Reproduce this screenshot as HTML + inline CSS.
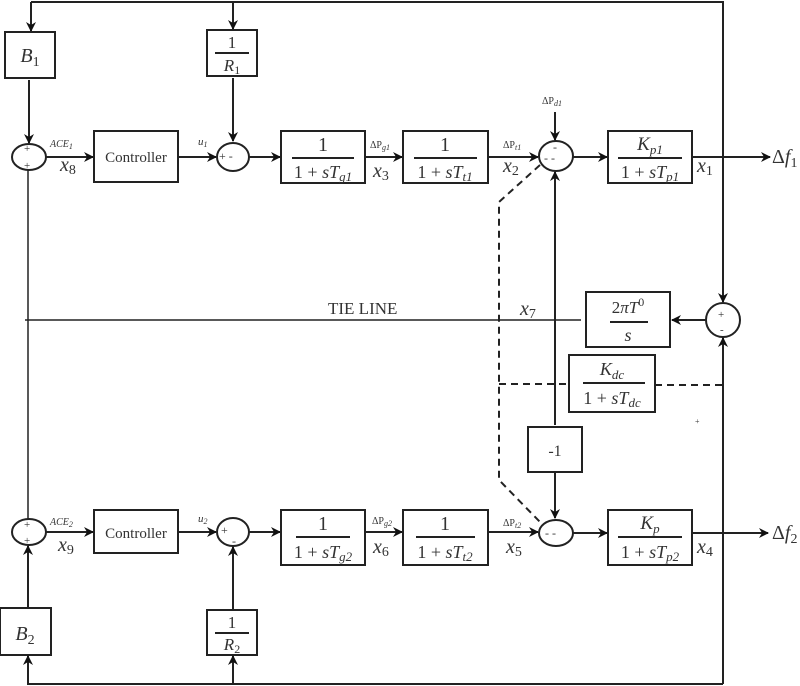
<!DOCTYPE html>
<html><head><meta charset="utf-8"><style>
html,body{margin:0;padding:0;background:#fff;}
svg{display:block;}
text{font-family:"Liberation Serif",serif;fill:#333;}
.i{font-style:italic;}
.c{text-anchor:middle;}
</style></head><body>
<svg width="800" height="686" viewBox="0 0 800 686" xmlns="http://www.w3.org/2000/svg">
<defs>
<marker id="a" markerWidth="10" markerHeight="10" refX="9" refY="5" orient="auto" markerUnits="userSpaceOnUse">
<path d="M0,0 L10,5 L0,10 L3,5 z" fill="#111"/></marker>
</defs>
<g stroke="#222" stroke-width="2" fill="none">
<polyline points="31,2 723,2 723,302" marker-end="url(#a)"/>
<line x1="31" y1="2" x2="31" y2="31" marker-end="url(#a)"/>
<line x1="233" y1="2" x2="233" y2="29" marker-end="url(#a)"/>
<rect x="5" y="32" width="50" height="46"/>
<rect x="207" y="30" width="50" height="46"/>
<line x1="29" y1="80" x2="29" y2="143" marker-end="url(#a)"/>
<line x1="233" y1="78" x2="233" y2="141" marker-end="url(#a)"/>
<ellipse cx="29" cy="157" rx="17" ry="13"/>
<line x1="46" y1="157" x2="93" y2="157" marker-end="url(#a)"/>
<rect x="94" y="131" width="84" height="51"/>
<line x1="178" y1="157" x2="216" y2="157" marker-end="url(#a)"/>
<ellipse cx="233" cy="157" rx="16" ry="14"/>
<line x1="249" y1="157" x2="280" y2="157" marker-end="url(#a)"/>
<rect x="281" y="131" width="84" height="52"/>
<line x1="365" y1="157" x2="402" y2="157" marker-end="url(#a)"/>
<rect x="403" y="131" width="85" height="52"/>
<line x1="488" y1="157" x2="538" y2="157" marker-end="url(#a)"/>
<ellipse cx="556" cy="156" rx="17" ry="15"/>
<line x1="555" y1="112" x2="555" y2="140" marker-end="url(#a)"/>
<line x1="573" y1="157" x2="607" y2="157" marker-end="url(#a)"/>
<rect x="608" y="131" width="84" height="52"/>
<line x1="692" y1="157" x2="770" y2="157" marker-end="url(#a)"/>
<line x1="555" y1="425" x2="555" y2="172" marker-end="url(#a)"/>
<rect x="528" y="427" width="54" height="45"/>
<line x1="555" y1="472" x2="555" y2="518" marker-end="url(#a)"/>
<line x1="25" y1="320" x2="581" y2="320" stroke-width="1.5"/>
<rect x="586" y="292" width="84" height="55"/>
<ellipse cx="723" cy="320" rx="17" ry="17"/>
<line x1="706" y1="320" x2="672" y2="320" marker-end="url(#a)"/>
<rect x="569" y="355" width="86" height="57"/>
<polyline points="723,684 723,338" marker-end="url(#a)"/>
<line x1="28" y1="170" x2="28" y2="519" stroke-width="1.5"/>
<ellipse cx="29" cy="532" rx="17" ry="13"/>
<line x1="46" y1="532" x2="93" y2="532" marker-end="url(#a)"/>
<rect x="94" y="510" width="84" height="43"/>
<line x1="178" y1="532" x2="216" y2="532" marker-end="url(#a)"/>
<ellipse cx="233" cy="532" rx="16" ry="14"/>
<line x1="249" y1="532" x2="280" y2="532" marker-end="url(#a)"/>
<rect x="281" y="510" width="84" height="55"/>
<line x1="365" y1="532" x2="402" y2="532" marker-end="url(#a)"/>
<rect x="403" y="510" width="85" height="55"/>
<line x1="488" y1="532" x2="538" y2="532" marker-end="url(#a)"/>
<ellipse cx="556" cy="533" rx="17" ry="13"/>
<line x1="573" y1="533" x2="607" y2="533" marker-end="url(#a)"/>
<rect x="608" y="510" width="84" height="55"/>
<line x1="692" y1="533" x2="768" y2="533" marker-end="url(#a)"/>
<rect x="0" y="608" width="51" height="47"/>
<rect x="207" y="610" width="50" height="45"/>
<line x1="28" y1="608" x2="28" y2="546" marker-end="url(#a)"/>
<line x1="233" y1="610" x2="233" y2="547" marker-end="url(#a)"/>
<polyline points="723,684 28,684 28,656" marker-end="url(#a)"/>
<line x1="233" y1="684" x2="233" y2="656" marker-end="url(#a)"/>
<g stroke-dasharray="7,5">
<polyline points="540,165 499,202 499,480 540,522"/>
<line x1="499" y1="384" x2="569" y2="384"/>
<line x1="655" y1="385" x2="723" y2="385"/>
</g>
<line x1="215" y1="53" x2="249" y2="53"/>
<line x1="292" y1="158" x2="354" y2="158"/>
<line x1="414" y1="158" x2="477" y2="158"/>
<line x1="618" y1="158" x2="682" y2="158"/>
<line x1="610" y1="322" x2="648" y2="322"/>
<line x1="583" y1="383" x2="645" y2="383"/>
<line x1="215" y1="633" x2="249" y2="633"/>
<line x1="296" y1="537" x2="350" y2="537"/>
<line x1="416" y1="537" x2="475" y2="537"/>
<line x1="618" y1="537" x2="682" y2="537"/>
</g>
<g font-size="18">
<text x="30" y="62" class="i c" font-size="20">B<tspan font-size="14" dy="4" font-style="normal">1</tspan></text>
<text x="232" y="48" class="c" font-size="17">1</text>
<text x="232" y="71" class="i c" font-size="17">R<tspan font-size="12" dy="3" font-style="normal">1</tspan></text>
<text x="136" y="162" class="c" font-size="15">Controller</text>
<text x="323" y="151" class="c" font-size="20">1</text>
<text x="323" y="178" class="c" font-size="18">1 + <tspan class="i">sT</tspan><tspan font-size="13" dy="3" class="i">g1</tspan></text>
<text x="445" y="151" class="c" font-size="20">1</text>
<text x="445" y="178" class="c" font-size="18">1 + <tspan class="i">sT</tspan><tspan font-size="13" dy="3" class="i">t1</tspan></text>
<text x="650" y="150" class="i c" font-size="19">K<tspan font-size="13" dy="4">p1</tspan></text>
<text x="650" y="178" class="c" font-size="18">1 + <tspan class="i">sT</tspan><tspan font-size="13" dy="3" class="i">p1</tspan></text>
<text x="628" y="313" class="c" font-size="17">2<tspan class="i">πT</tspan><tspan font-size="12" dy="-7">0</tspan></text>
<text x="628" y="341" class="i c" font-size="18">s</text>
<text x="612" y="375" class="i c" font-size="18">K<tspan font-size="13" dy="4">dc</tspan></text>
<text x="612" y="404" class="c" font-size="18">1 + <tspan class="i">sT</tspan><tspan font-size="13" dy="3" class="i">dc</tspan></text>
<text x="555" y="456" class="c" font-size="16" font-family="Liberation Sans">-1</text>
<text x="136" y="538" class="c" font-size="15">Controller</text>
<text x="323" y="530" class="c" font-size="20">1</text>
<text x="323" y="558" class="c" font-size="18">1 + <tspan class="i">sT</tspan><tspan font-size="13" dy="3" class="i">g2</tspan></text>
<text x="445" y="530" class="c" font-size="20">1</text>
<text x="445" y="558" class="c" font-size="18">1 + <tspan class="i">sT</tspan><tspan font-size="13" dy="3" class="i">t2</tspan></text>
<text x="650" y="529" class="i c" font-size="19">K<tspan font-size="13" dy="4">p</tspan></text>
<text x="650" y="558" class="c" font-size="18">1 + <tspan class="i">sT</tspan><tspan font-size="13" dy="3" class="i">p2</tspan></text>
<text x="25" y="640" class="i c" font-size="20">B<tspan font-size="14" dy="4" font-style="normal">2</tspan></text>
<text x="232" y="628" class="c" font-size="17">1</text>
<text x="232" y="650" class="i c" font-size="17">R<tspan font-size="12" dy="3" font-style="normal">2</tspan></text>
<text x="60" y="171" class="i" font-size="20">x<tspan font-size="14" dy="3" font-style="normal">8</tspan></text>
<text x="373" y="177" class="i" font-size="20">x<tspan font-size="14" dy="3" font-style="normal">3</tspan></text>
<text x="503" y="172" class="i" font-size="20">x<tspan font-size="14" dy="3" font-style="normal">2</tspan></text>
<text x="697" y="172" class="i" font-size="20">x<tspan font-size="14" dy="3" font-style="normal">1</tspan></text>
<text x="520" y="315" class="i" font-size="20">x<tspan font-size="14" dy="3" font-style="normal">7</tspan></text>
<text x="58" y="551" class="i" font-size="20">x<tspan font-size="14" dy="3" font-style="normal">9</tspan></text>
<text x="373" y="553" class="i" font-size="20">x<tspan font-size="14" dy="3" font-style="normal">6</tspan></text>
<text x="506" y="553" class="i" font-size="20">x<tspan font-size="14" dy="3" font-style="normal">5</tspan></text>
<text x="697" y="553" class="i" font-size="20">x<tspan font-size="14" dy="3" font-style="normal">4</tspan></text>
<text x="772" y="163" font-size="20">Δ<tspan class="i">f</tspan><tspan font-size="14" dy="4">1</tspan></text>
<text x="772" y="539" font-size="20">Δ<tspan class="i">f</tspan><tspan font-size="14" dy="4">2</tspan></text>
<text x="328" y="314" font-size="17">TIE LINE</text>
<text x="50" y="147" class="i" font-size="10">ACE<tspan font-size="8" dy="2">1</tspan></text>
<text x="50" y="525" class="i" font-size="10">ACE<tspan font-size="8" dy="2">2</tspan></text>
<text x="198" y="145" class="i" font-size="11">u<tspan font-size="8" dy="2">1</tspan></text>
<text x="198" y="522" class="i" font-size="11">u<tspan font-size="8" dy="2">2</tspan></text>
<text x="370" y="148" font-size="10">ΔP<tspan font-size="8" dy="2" class="i">g1</tspan></text>
<text x="372" y="524" font-size="10">ΔP<tspan font-size="8" dy="2" class="i">g2</tspan></text>
<text x="503" y="148" font-size="10">ΔP<tspan font-size="8" dy="2" class="i">t1</tspan></text>
<text x="503" y="526" font-size="10">ΔP<tspan font-size="8" dy="2" class="i">t2</tspan></text>
<text x="542" y="104" font-size="10">ΔP<tspan font-size="8" dy="2" class="i">d1</tspan></text>
<text x="24" y="152" font-size="11">+</text>
<text x="24" y="169" font-size="11">+</text>
<text x="24" y="528" font-size="11">+</text>
<text x="24" y="544" font-size="11">+</text>
<text x="219" y="160" font-size="12">+ -</text>
<text x="221" y="534" font-size="12">+</text>
<text x="232" y="545" font-size="12">-</text>
<text x="553" y="151" font-size="12">-</text>
<text x="544" y="162" font-size="12">- -</text>
<text x="545" y="537" font-size="12">- -</text>
<text x="718" y="318" font-size="11">+</text>
<text x="720" y="333" font-size="11">-</text>
<text x="695" y="424" font-size="8">+</text>
</g>
</svg>
</body></html>
